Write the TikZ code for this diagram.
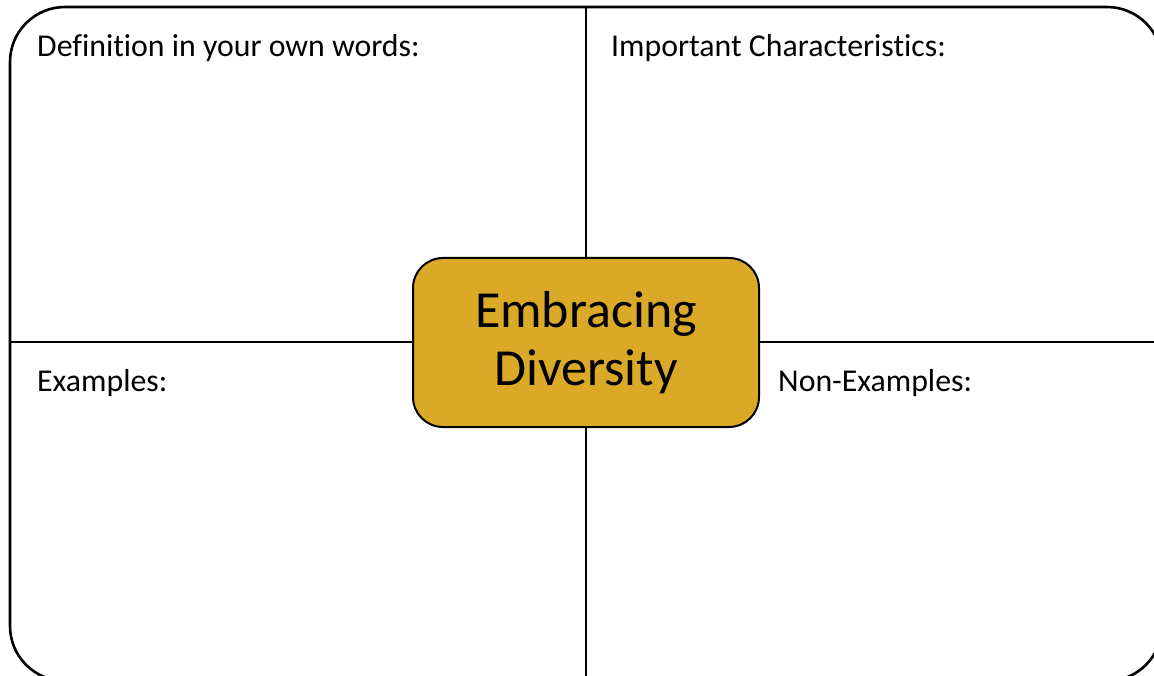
\documentclass[tikz,border=0pt]{standalone}
\usepackage{fontspec}
\setmainfont[Ligatures={NoCommon}]{Carlito}
\definecolor{gold}{HTML}{DAA928}
\begin{document}
\begin{tikzpicture}[x=1pt,y=-1pt,
  frame/.style={line width=2.6pt,draw=black},
  label/.style={anchor=base west,inner sep=0pt,font=\fontsize{31.8}{38}\selectfont},
  centerbox/.style={draw=black,line width=2pt,fill=gold,rounded corners=30pt,minimum width=346pt,minimum height=169pt,align=center,font=\fontsize{52}{58}\selectfont}]
\useasboundingbox (0,0) rectangle (1154,676);
\clip (0,0) rectangle (1154,676);
\draw[frame,rounded corners=55pt] (10,7) rectangle (1162,681);
\coordinate (top) at (586,7);
\coordinate (bot) at (586,681);
\coordinate (lft) at (10,342);
\coordinate (rgt) at (1162,342);
\draw[frame,line width=2pt] (top) -- (bot);
\draw[frame,line width=2pt] (lft) -- (rgt);
\node[centerbox] (c) at (586,342.5) {Embracing\\Diversity};
\node[label] (def) at (37,57) {Definition in your own words:};
\node[label] (imp) at (611,57) {Important Characteristics:};
\node[label] (ex) at (37,391) {Examples:};
\node[label] (nex) at (778,391) {Non-Examples:};
\end{tikzpicture}
\end{document}
